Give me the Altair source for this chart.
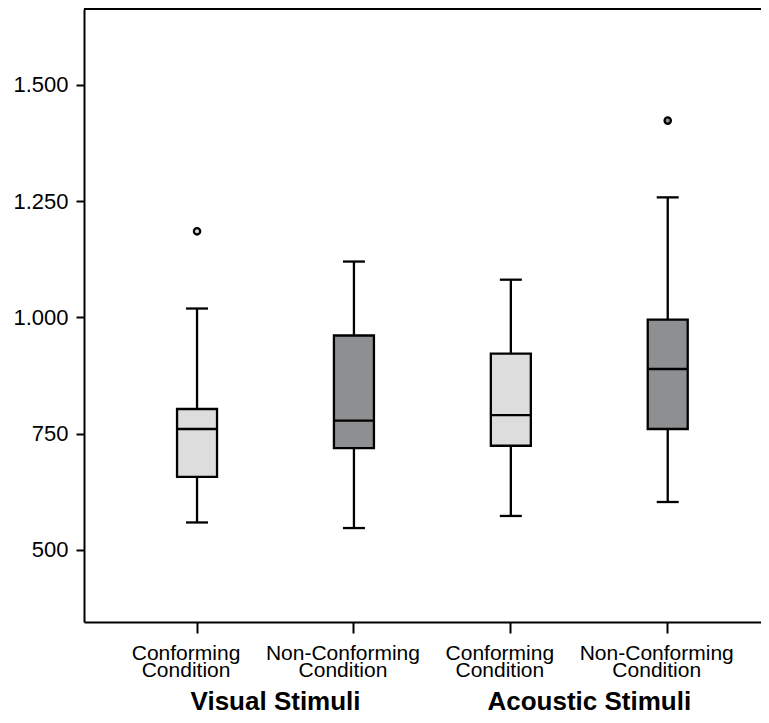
import altair as alt
import pandas as pd

# ---- data ----
conditions = ["VC", "VN", "AC", "AN"]
condition_type = ["Conforming", "Non-Conforming", "Conforming", "Non-Conforming"]
whisker_low = [559, 547, 573, 603]
q1 = [657, 719, 724, 760]
median = [760, 778, 790, 889]
q3 = [803, 961, 922, 995]
whisker_high = [1019, 1120, 1081, 1258]

outlier_cond = ["VC", "AN"]
outlier_type = ["Conforming", "Non-Conforming"]
outlier_value = [1185, 1423]

group_labels = ["Visual Stimuli", "Acoustic Stimuli"]
group_anchor = ["VC", "AC"]

y_ticks = [500, 750, 1000, 1250, 1500]

W, H = 677, 613
FONT = "Liberation Sans"

df = pd.DataFrame(dict(cond=conditions, ctype=condition_type, lo=whisker_low,
                       q1=q1, med=median, q3=q3, hi=whisker_high))
odf = pd.DataFrame(dict(cond=outlier_cond, ctype=outlier_type, val=outlier_value))
gdf = pd.DataFrame(dict(cond=group_anchor, label=group_labels))

xscale = alt.Scale(domain=conditions, paddingInner=0, paddingOuter=0.1575, align=0.7)
xaxis = alt.Axis(
    title=None, labelAngle=0,
    labelExpr="indexof(['VC','AC'], datum.value) >= 0 ? ['Conforming','Condition'] : ['Non-Conforming','Condition']",
    labelFont=FONT, labelFontSize=21, labelLineHeight=17, labelColor="black",
    labelPadding=9, labelOffset=-11,
    tickSize=11, tickWidth=2, tickColor="black",
    domainWidth=2, domainColor="black",
)
X = alt.X("cond:N", scale=xscale, axis=xaxis, sort=conditions)

yscale = alt.Scale(domain=[345, 1663], nice=False, zero=False)
yaxis = alt.Axis(
    title=None, values=y_ticks, grid=False,
    labelExpr="replace(format(datum.value, ','), ',', '.')",
    labelFont=FONT, labelFontSize=22, labelColor="black", labelPadding=8,
    tickSize=8, tickWidth=2, tickColor="black",
    domainWidth=2, domainColor="black",
)

fill_scale = alt.Scale(domain=["Conforming", "Non-Conforming"], range=["#dcdddc", "#8e8f91"])

SW = 2.3
base = alt.Chart(df)

whisk_low = base.mark_rule(color="black", strokeWidth=SW).encode(
    x=X, y=alt.Y("lo:Q", scale=yscale, axis=yaxis), y2="q1:Q")
whisk_high = base.mark_rule(color="black", strokeWidth=SW).encode(
    x=X, y=alt.Y("q3:Q", scale=yscale, axis=yaxis), y2="hi:Q")
cap_low = base.mark_tick(color="black", size=22, thickness=SW, opacity=1).encode(
    x=X, y=alt.Y("lo:Q", scale=yscale, axis=yaxis))
cap_high = base.mark_tick(color="black", size=22, thickness=SW, opacity=1).encode(
    x=X, y=alt.Y("hi:Q", scale=yscale, axis=yaxis))
box = base.mark_bar(size=40, stroke="black", strokeWidth=SW, opacity=1).encode(
    x=X, y=alt.Y("q1:Q", scale=yscale, axis=yaxis), y2="q3:Q",
    fill=alt.Fill("ctype:N", scale=fill_scale, legend=None))
med = base.mark_tick(color="black", size=40, thickness=SW, opacity=1).encode(
    x=X, y=alt.Y("med:Q", scale=yscale, axis=yaxis))
outl = alt.Chart(odf).mark_circle(size=40, stroke="black", strokeWidth=SW, opacity=1).encode(
    x=X, y=alt.Y("val:Q", scale=yscale, axis=yaxis),
    fill=alt.Fill("ctype:N", scale=fill_scale, legend=None))

top_line = alt.Chart(gdf).mark_rule(color="black", strokeWidth=2).encode(
    x=alt.value(0), x2=alt.value(W), y=alt.value(0))

groups = alt.Chart(gdf).mark_text(
    font=FONT, fontSize=26, fontWeight="bold", color="black",
    align="center", baseline="alphabetic", dx=78.5).encode(
    x=X, y=alt.value(701), text="label:N")

chart = alt.layer(
    whisk_low, whisk_high, cap_low, cap_high, box, med, outl, top_line, groups
).properties(
    width=W, height=H,
    autosize=alt.AutoSizeParams(type="none"),
    padding={"left": 76, "top": 1, "right": 0, "bottom": 93},
).configure_view(stroke=None).configure(background="white")

chart.save("out.html", embed_options={"renderer": "svg", "actions": False})
